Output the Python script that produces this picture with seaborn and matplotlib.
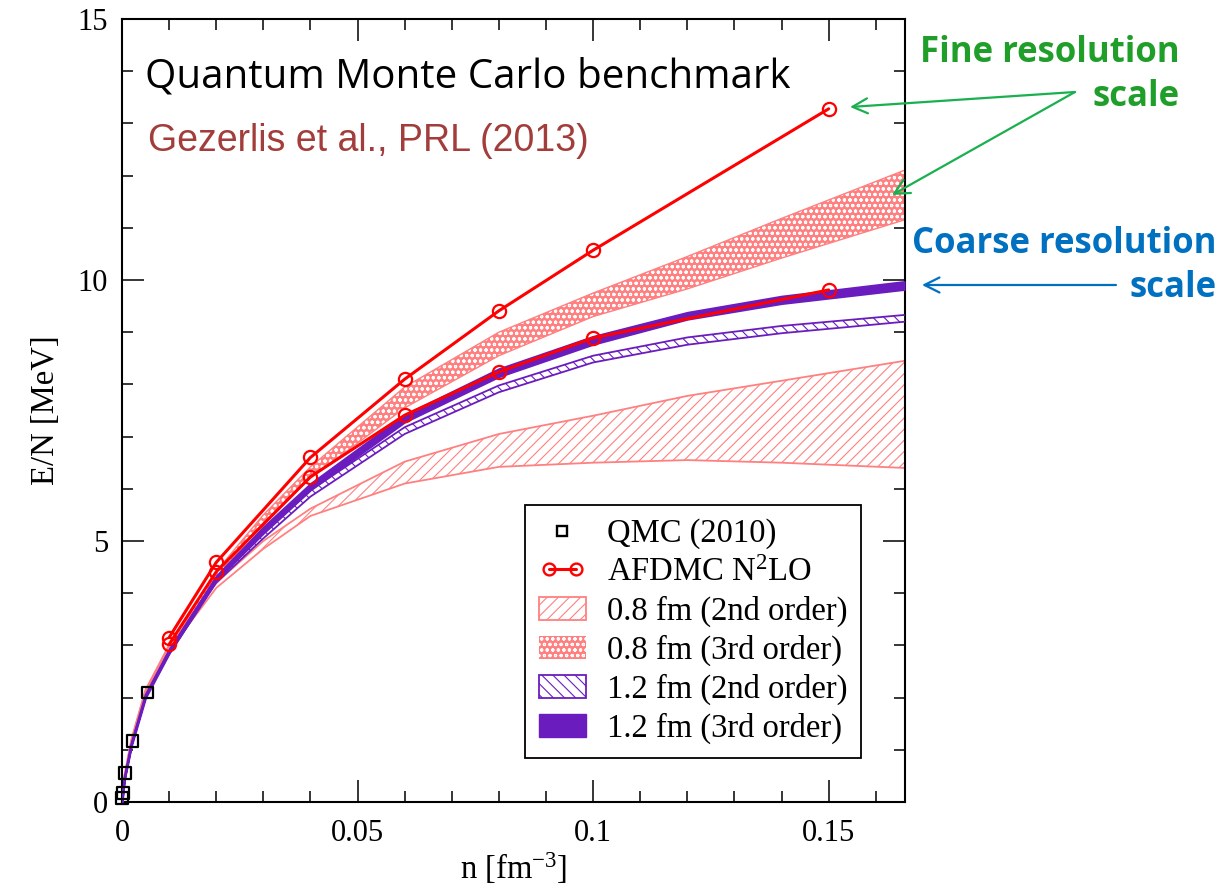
import matplotlib
matplotlib.use("Agg")
import matplotlib.pyplot as plt
import seaborn as sns
import numpy as np
from matplotlib.patches import Patch
from matplotlib.lines import Line2D
from matplotlib.legend_handler import HandlerLine2D

# ---------------- data ----------------
n_band = [0, 0.0005, 0.002, 0.005, 0.01, 0.02, 0.03, 0.04, 0.06, 0.08, 0.10, 0.12, 0.14, 0.166]

fine2_lo = [0, 0.45, 1.12, 2.05, 2.90, 4.10, 4.85, 5.48, 6.10, 6.42, 6.50, 6.55, 6.50, 6.40]
fine2_hi = [0, 0.50, 1.20, 2.15, 2.98, 4.20, 5.00, 5.62, 6.52, 7.05, 7.40, 7.78, 8.07, 8.45]

fine3_lo = [0, 0.45, 1.15, 2.08, 2.95, 4.30, 5.35, 6.20, 7.55, 8.55, 9.30, 9.83, 10.42, 11.15]
fine3_hi = [0, 0.50, 1.20, 2.15, 3.02, 4.42, 5.50, 6.42, 7.95, 9.00, 9.75, 10.45, 11.18, 12.10]

coarse2_lo = [0, 0.42, 1.08, 2.00, 2.83, 4.20, 5.05, 5.85, 7.05, 7.85, 8.42, 8.76, 8.98, 9.20]
coarse2_hi = [0, 0.45, 1.12, 2.05, 2.90, 4.27, 5.15, 5.97, 7.18, 7.98, 8.55, 8.90, 9.12, 9.33]

coarse3_lo = [0, 0.42, 1.08, 2.00, 2.85, 4.25, 5.15, 5.98, 7.28, 8.15, 8.77, 9.25, 9.55, 9.82]
coarse3_hi = [0, 0.45, 1.12, 2.05, 2.92, 4.33, 5.27, 6.10, 7.42, 8.30, 8.92, 9.38, 9.69, 9.97]

n_afdmc = [0.01, 0.02, 0.04, 0.06, 0.08, 0.10, 0.15]
E_afdmc_fine = [3.15, 4.59, 6.60, 8.10, 9.41, 10.57, 13.28]
E_afdmc_coarse = [3.02, 4.41, 6.23, 7.41, 8.24, 8.89, 9.81]

n_qmc = [0.00005, 0.00015, 0.0006, 0.0022, 0.0054]
E_qmc = [0.08, 0.17, 0.55, 1.17, 2.10]

legend_labels = ["QMC (2010)", r"AFDMC N$^{\mathregular{2}}$LO", "0.8 fm (2nd order)",
                 "0.8 fm (3rd order)", "1.2 fm (2nd order)", "1.2 fm (3rd order)"]

# ---------------- style ----------------
sns.set_theme(style="ticks")
plt.rcParams["font.family"] = ["Liberation Serif", "DejaVu Serif"]
plt.rcParams["mathtext.fontset"] = "custom"
plt.rcParams["mathtext.rm"] = "Liberation Serif"
plt.rcParams["mathtext.it"] = "Liberation Serif:italic"
plt.rcParams["hatch.linewidth"] = 0.8
plt.rcParams["text.color"] = "black"
plt.rcParams["axes.labelcolor"] = "black"
plt.rcParams["xtick.color"] = "black"
plt.rcParams["ytick.color"] = "black"

RED = "#ff0000"
SALMON = "#ff8080"
PURPLE = "#6a1cbf"
GREEN_T = "#1f9e2a"
GREEN_A = "#1ab04f"
BLUE = "#0070c0"

fig = plt.figure(figsize=(12.26, 8.92), dpi=100)
ax = fig.add_axes([0.0995, 0.1009, 0.6387, 0.8778])

# bands
ax.fill_between(n_band, fine2_lo, fine2_hi, facecolor="white", edgecolor=SALMON,
                hatch="///", linewidth=0, zorder=1)
ax.plot(n_band, fine2_lo, color=SALMON, lw=1.3, zorder=1.5)
ax.plot(n_band, fine2_hi, color=SALMON, lw=1.3, zorder=1.5)

ax.fill_between(n_band, fine3_lo, fine3_hi, facecolor=SALMON, edgecolor="white",
                hatch="ooo", linewidth=0, zorder=2)
ax.plot(n_band, fine3_lo, color=SALMON, lw=1.0, zorder=2.5)
ax.plot(n_band, fine3_hi, color=SALMON, lw=1.0, zorder=2.5)

ax.fill_between(n_band, coarse2_lo, coarse2_hi, facecolor="white", edgecolor=PURPLE,
                hatch="\\\\\\", linewidth=0, zorder=3)
ax.plot(n_band, coarse2_lo, color=PURPLE, lw=1.3, zorder=3.5)
ax.plot(n_band, coarse2_hi, color=PURPLE, lw=1.3, zorder=3.5)

ax.fill_between(n_band, coarse3_lo, coarse3_hi, facecolor=PURPLE, edgecolor=PURPLE,
                linewidth=1.5, zorder=4)

# AFDMC lines
for E in (E_afdmc_fine, E_afdmc_coarse):
    sns.lineplot(x=n_afdmc, y=E, ax=ax, color=RED, lw=2.2, marker="o", markersize=9.5,
                 markerfacecolor="none", markeredgecolor=RED, markeredgewidth=1.6,
                 sort=False, zorder=6, legend=False)

# QMC points
sns.scatterplot(x=n_qmc, y=E_qmc, ax=ax, marker="s", s=70, facecolor="none",
                edgecolor="black", linewidth=1.6, zorder=7, clip_on=False, legend=False)

# axes
ax.set_xlim(0, 0.1662)
ax.set_ylim(0, 15)
ax.set_xticks([0, 0.05, 0.1, 0.15])
ax.set_xticklabels(["0", "0.05", "0.1", "0.15"])
ax.set_yticks([0, 5, 10, 15])
ax.set_xticks(np.arange(0, 0.1661, 0.01), minor=True)
ax.set_yticks(np.arange(0, 15.01, 1), minor=True)
ax.tick_params(which="both", direction="in", top=True, right=True, labelsize=22,
               width=1.1, color="black", labelcolor="black")
ax.tick_params(which="major", length=16, pad=10)
ax.tick_params(which="minor", length=8)
ax.tick_params(axis="x", which="major", pad=12)
for s in ax.spines.values():
    s.set_linewidth(1.5)
    s.set_color("black")
ax.set_facecolor("white")
ax.grid(False)
ax.set_xlabel(r"n [fm$^{\mathregular{-3}}$]", fontsize=23.5, labelpad=2)
ax.set_ylabel("E/N [MeV]", fontsize=23.5, labelpad=12)

# legend
handles = [
    Line2D([], [], ls="none", marker="s", markersize=7.5, markerfacecolor="none",
           markeredgecolor="black", markeredgewidth=1.7),
    Line2D([], [], color=RED, lw=2.2, marker="o", markersize=8.5, markerfacecolor="none",
           markeredgecolor=RED, markeredgewidth=1.7),
    Patch(facecolor="white", edgecolor=SALMON, hatch="///", lw=1.3),
    Patch(facecolor=SALMON, edgecolor="white", hatch="ooo", lw=0),
    Patch(facecolor="white", edgecolor=PURPLE, hatch="\\\\\\", lw=1.3),
    Patch(facecolor=PURPLE, edgecolor=PURPLE, lw=1.0),
]
leg = ax.legend(handles, legend_labels, loc="lower left", bbox_to_anchor=(0.5147, 0.0562),
                fontsize=23.5, frameon=True, fancybox=False, edgecolor="black",
                framealpha=1, handlelength=1.45, handleheight=0.7, labelspacing=0.24,
                borderpad=0.42, borderaxespad=0, handletextpad=0.65,
                handler_map={handles[1]: HandlerLine2D(numpoints=2)})
leg.get_frame().set_linewidth(1.3)
leg.set_zorder(10)

# annotations
def fx(px):
    return px / 1226.0

def fy(py):
    return 1 - py / 892.0

fig.text(fx(145), fy(77), "Quantum Monte Carlo benchmark", fontsize=29,
         family=["Open Sans", "DejaVu Sans"], color="black", va="center", ha="left")
fig.text(fx(148), fy(141), "Gezerlis et al., PRL (2013)", fontsize=27,
         family=["Liberation Sans", "DejaVu Sans"], color="#a23d3b", va="center", ha="left")

fig.text(fx(1180), fy(53), "Fine resolution", fontsize=25, fontweight="bold",
         family=["Open Sans", "DejaVu Sans"], color=GREEN_T, ha="right", va="center")
fig.text(fx(1180), fy(97), "scale", fontsize=25, fontweight="bold",
         family=["Open Sans", "DejaVu Sans"], color=GREEN_T, ha="right", va="center")
fig.text(fx(1217), fy(244), "Coarse resolution", fontsize=25, fontweight="bold",
         family=["Open Sans", "DejaVu Sans"], color=BLUE, ha="right", va="center")
fig.text(fx(1217), fy(288), "scale", fontsize=25, fontweight="bold",
         family=["Open Sans", "DejaVu Sans"], color=BLUE, ha="right", va="center")

arrow_kw = dict(arrowstyle="->,head_length=0.9,head_width=0.45", lw=1.6, shrinkA=0, shrinkB=0)
ax.annotate("", xy=(fx(850), fy(107)), xycoords="figure fraction",
            xytext=(fx(1075), fy(92)), textcoords="figure fraction",
            arrowprops=dict(color=GREEN_A, **arrow_kw), annotation_clip=False)
ax.annotate("", xy=(fx(892), fy(195)), xycoords="figure fraction",
            xytext=(fx(1075), fy(92)), textcoords="figure fraction",
            arrowprops=dict(color=GREEN_A, **arrow_kw), annotation_clip=False)
ax.annotate("", xy=(fx(922), fy(285)), xycoords="figure fraction",
            xytext=(fx(1116), fy(285)), textcoords="figure fraction",
            arrowprops=dict(color=BLUE, **arrow_kw), annotation_clip=False)

fig.savefig("out.png", dpi=100, facecolor="white")
